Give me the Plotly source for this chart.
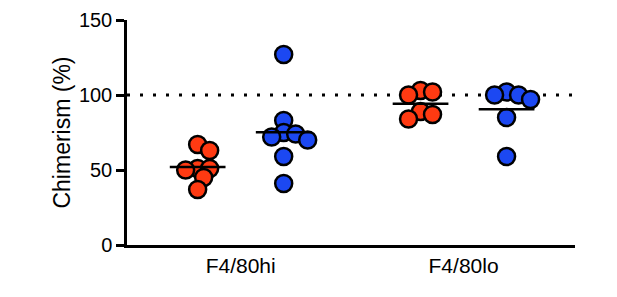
import numpy as np
import plotly.graph_objects as go

# chimerism values (%)
groups = ['F4/80hi', 'F4/80lo']
red_hi = [67, 63, 51, 51, 50, 45, 37]
blue_hi = [127, 83, 75, 74, 72, 70, 59, 41]
red_lo = [103, 102, 100, 89, 87, 84]
blue_lo = [102, 100, 100, 97, 85, 59]
y_ticks = [0, 50, 100, 150]
reference_level = 100

RED = '#FF3A12'
BLUE = '#1C48F2'

# px per unit on each axis (for swarm spacing)
PX_X = 223.0
PX_Y = 1.5


def swarm(values, center, d=10.0, step=6.0):
    # simple beeswarm: place points from top down, push sideways if they collide
    placed = []
    xs = [0.0] * len(values)
    order = sorted(range(len(values)), key=lambda i: -values[i])
    for i in order:
        yp = values[i] * PX_Y
        k = 0
        while True:
            off = ((k + 1) // 2) * step * (1 if k % 2 == 1 else -1) if k else 0.0
            ok = all((off - px) ** 2 + (yp - py) ** 2 >= d * d for px, py in placed)
            if ok:
                break
            k += 1
        placed.append((off, yp))
        xs[i] = center + off / PX_X
    return xs


fig = go.Figure()

series = [
    (red_hi, 1 - 0.193, RED),
    (blue_hi, 1 + 0.193, BLUE),
    (red_lo, 2 - 0.193, RED),
    (blue_lo, 2 + 0.193, BLUE),
]

# dotted 100% line
fig.add_trace(go.Scatter(
    x=[0.49, 2.5], y=[reference_level, reference_level], mode='lines',
    line=dict(color='black', width=3, dash='3px,10px'),
    showlegend=False, hoverinfo='skip',
))

for vals, c, col in series:
    fig.add_trace(go.Scatter(
        x=swarm(vals, c), y=vals, mode='markers',
        marker=dict(size=17, color=col, line=dict(color='black', width=2.5)),
        showlegend=False,
    ))

for vals, c, col in series:
    m = float(np.mean(vals))
    fig.add_trace(go.Scatter(
        x=[c - 0.125, c + 0.125], y=[m, m], mode='lines',
        line=dict(color='black', width=2.5),
        showlegend=False, hoverinfo='skip',
    ))

# page body has an 8px margin, so the figure is a bit smaller than the window
fig.update_layout(
    width=609, height=289,
    margin=dict(l=119, r=42, t=12, b=52),
    plot_bgcolor='white', paper_bgcolor='white',
    font=dict(family='Liberation Sans, Arial', color='black'),
)
fig.update_xaxes(
    range=[0.49, 2.5], tickvals=[1, 2], ticktext=groups,
    showline=True, linecolor='black', linewidth=2.5,
    ticks='', showgrid=False, zeroline=False, automargin=False,
    tickfont=dict(size=21),
)
fig.update_yaxes(
    range=[0, 150], tickvals=y_ticks,
    showline=True, linecolor='black', linewidth=2.5,
    ticks='outside', ticklen=8, tickwidth=2.5, tickcolor='black',
    showgrid=False, zeroline=False, automargin=False,
    ticklabeloverflow='allow',
    tickfont=dict(size=20),
    title=dict(text='Chimerism (%)', font=dict(size=23), standoff=2),
)

fig.write_html("out.html")
